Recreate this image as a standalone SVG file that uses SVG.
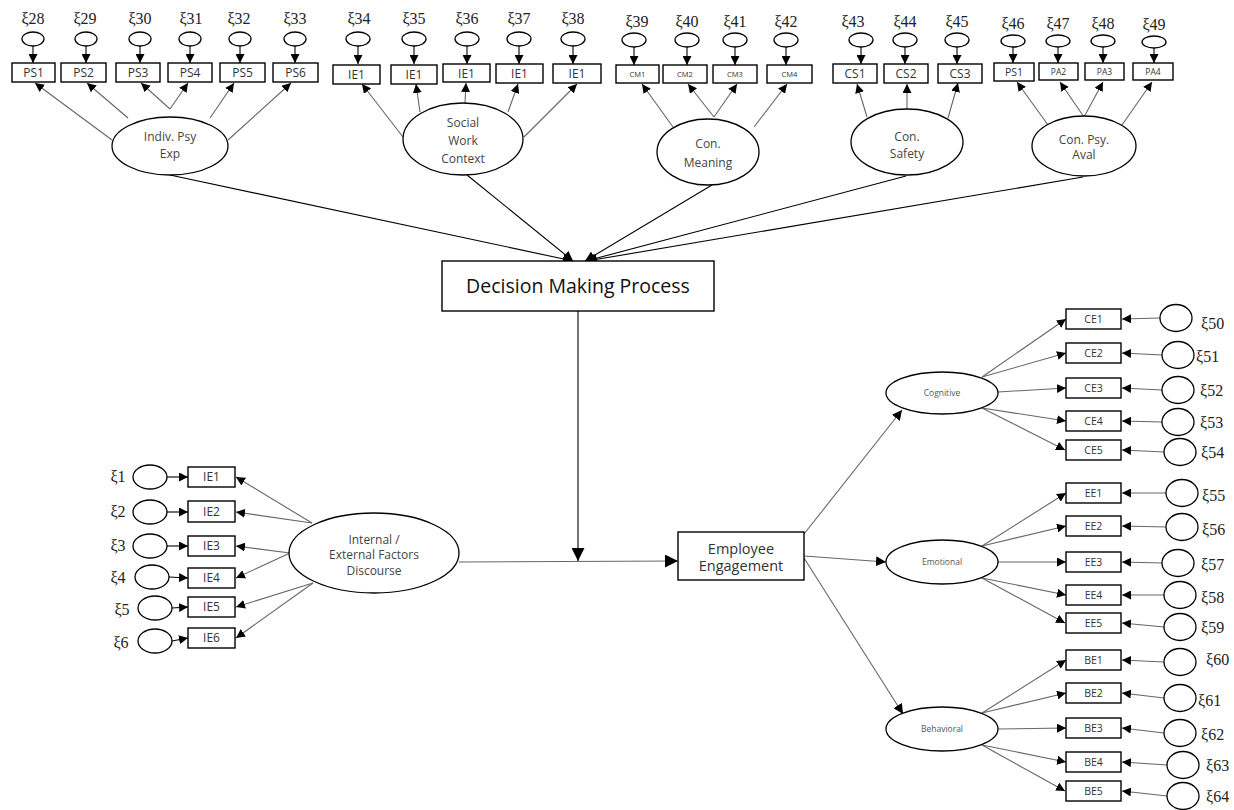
<svg xmlns="http://www.w3.org/2000/svg" width="1234" height="810" viewBox="0 0 1234 810">
<defs>
<style>
.bg{fill:#fff}
.box{fill:#fff;stroke:#000;stroke-width:1.4}
.el{fill:#fff;stroke:#000;stroke-width:1.3}
.c{fill:none;stroke:#666;stroke-width:1.1}
.k{fill:none;stroke:#000;stroke-width:1.1}
.xi{font-family:"Liberation Serif",serif;font-size:16px;fill:#222}
.t{font-family:"Open Sans","Liberation Sans",sans-serif;fill:#333;text-anchor:middle}
.s12{font-size:12px}
.s9{font-size:8.5px}
.s10{font-size:10.5px}
.s8{font-size:7.5px}
.dim{font-size:8.5px;fill:#555}
.lat{font-size:12px;fill:#444}
.big{font-size:19.5px;fill:#111}
.mid{font-size:14.5px;fill:#333}
</style>
<marker id="ah" viewBox="0 0 10 10" refX="10" refY="5" markerWidth="10" markerHeight="10" markerUnits="userSpaceOnUse" orient="auto"><path d="M0,0 L10,5 L0,10 z" fill="#000"/></marker>
<marker id="as" viewBox="0 0 10 10" refX="10" refY="5" markerWidth="9" markerHeight="9" markerUnits="userSpaceOnUse" orient="auto"><path d="M0,0 L10,5 L0,10 z" fill="#000"/></marker>
<marker id="al" viewBox="0 0 10 10" refX="10" refY="5" markerWidth="13" markerHeight="13" markerUnits="userSpaceOnUse" orient="auto"><path d="M0,0 L10,5 L0,10 z" fill="#000"/></marker>
</defs>
<rect class="bg" x="0" y="0" width="1234" height="810"/>

<g id="connectors">
<g class="k" marker-end="url(#as)">
<path d="M33,46 V63"/><path d="M86,46 V63"/><path d="M140,46 V63"/><path d="M190,46 V63"/><path d="M240,46 V63"/><path d="M295,46 V63"/>
<path d="M358,46 V64"/><path d="M414,46 V64"/><path d="M467,46 V64"/><path d="M519,46 V64"/><path d="M573,46 V64"/>
<path d="M634,47 V65"/><path d="M687,47 V65"/><path d="M735,47 V65"/><path d="M786,47 V65"/>
<path d="M861,47 V64"/><path d="M905,47 V64"/><path d="M957,47 V64"/>
<path d="M1013,47 V63"/><path d="M1058,47 V63"/><path d="M1103,47 V63"/><path d="M1154,48 V63"/>
</g>
<g class="c" marker-end="url(#as)">
<path d="M112,140 L35,83"/><path d="M128,118 L87,83"/><path d="M170,109 L141,83"/><path d="M170,109 L188,83"/><path d="M210,118 L234,83"/><path d="M228,140 L291,83"/>
<path d="M403,137 L362,84"/><path d="M420,112 L416,84"/><path d="M465,103 L466,83"/><path d="M508,112 L518,84"/><path d="M524,137 L577,84"/>
<path d="M673,127 L642,84"/><path d="M714,117 L688,84"/><path d="M714,117 L737,84"/><path d="M754,127 L787,84"/>
<path d="M867,117 L857,84"/><path d="M907,110 L907,84"/><path d="M948,118 L958,83"/>
<path d="M1048,125 L1017,82"/><path d="M1084,117 L1060,82"/><path d="M1084,117 L1103,82"/><path d="M1122,125 L1152,82"/>
</g>
<g class="k" marker-end="url(#ah)">
<path d="M170,175 L573,261"/>
<path d="M467,175 L573,261"/>
<path d="M712,185 L585,261"/>
<path d="M906,176 L586,261"/>
<path d="M1083,177 L587,261"/>
</g>
<path class="k" d="M578,311 V561" marker-end="url(#al)"/>
<path class="c" d="M459,562 L678,561" stroke="#555" marker-end="url(#al)"/>
<g class="k" marker-end="url(#as)">
<path d="M167,477 L188,477"/><path d="M167,512 L188,512"/><path d="M167,546 L188,546"/><path d="M169,577 L188,578"/><path d="M172,608 L188,607"/><path d="M172,641 L188,638"/>
</g>
<g class="c" marker-end="url(#as)">
<path d="M312,523 L236,477"/><path d="M312,523 L236,512"/><path d="M290,553 L236,546"/><path d="M290,553 L236,578"/><path d="M313,583 L236,607"/><path d="M313,583 L236,638"/>
</g>
<g class="c" marker-end="url(#ah)">
<path d="M804,534 L902,410"/><path d="M804,556 L886,562"/><path d="M804,558 L903,714"/>
</g>
<g class="c" marker-end="url(#as)">
<path d="M982,377 L1066,319"/><path d="M982,377 L1066,353"/><path d="M998,392 L1066,388"/><path d="M982,408 L1066,421"/><path d="M982,408 L1065,450"/>
<path d="M982,546 L1066,493"/><path d="M982,546 L1066,526"/><path d="M998,562 L1066,562"/><path d="M982,578 L1066,595"/><path d="M982,578 L1065,623"/>
<path d="M982,713 L1066,660"/><path d="M982,713 L1066,693"/><path d="M998,729 L1066,728"/><path d="M982,745 L1066,762"/><path d="M982,745 L1065,791"/>
</g>
<g class="c" marker-end="url(#as)">
<path d="M1160,318 L1122,319"/><path d="M1162,355 L1122,353"/><path d="M1162,390 L1122,388"/><path d="M1162,422 L1122,421"/><path d="M1164,452 L1122,450"/>
<path d="M1166,493 L1122,493"/><path d="M1166,527 L1122,526"/><path d="M1162,563 L1122,562"/><path d="M1164,595 L1122,595"/><path d="M1164,627 L1122,623"/>
<path d="M1164,662 L1122,660"/><path d="M1164,698 L1122,693"/><path d="M1164,733 L1122,728"/><path d="M1167,765 L1122,762"/><path d="M1167,796 L1122,791"/>
</g>
</g>

<g id="e28"><text class="xi" x="33" y="24" text-anchor="middle">ξ28</text><ellipse class="el" cx="33" cy="39" rx="11" ry="7"/></g>
<g id="e29"><text class="xi" x="85" y="24" text-anchor="middle">ξ29</text><ellipse class="el" cx="86" cy="39" rx="11" ry="7"/></g>
<g id="e30"><text class="xi" x="140" y="24" text-anchor="middle">ξ30</text><ellipse class="el" cx="140" cy="39" rx="11" ry="7"/></g>
<g id="e31"><text class="xi" x="191" y="24" text-anchor="middle">ξ31</text><ellipse class="el" cx="190" cy="39" rx="11" ry="7"/></g>
<g id="e32"><text class="xi" x="239" y="24" text-anchor="middle">ξ32</text><ellipse class="el" cx="240" cy="39" rx="11" ry="7"/></g>
<g id="e33"><text class="xi" x="295" y="24" text-anchor="middle">ξ33</text><ellipse class="el" cx="295" cy="39" rx="11" ry="7"/></g>
<g id="ps1"><rect class="box" x="12" y="63" width="43" height="19"/><text class="t s12" x="33.5" y="77">PS1</text></g>
<g id="ps2"><rect class="box" x="61" y="63" width="45" height="19"/><text class="t s12" x="83.5" y="77">PS2</text></g>
<g id="ps3"><rect class="box" x="116" y="63" width="44" height="19"/><text class="t s12" x="138" y="77">PS3</text></g>
<g id="ps4"><rect class="box" x="168" y="63" width="44" height="19"/><text class="t s12" x="190" y="77">PS4</text></g>
<g id="ps5"><rect class="box" x="220" y="63" width="45" height="19"/><text class="t s12" x="242.5" y="77">PS5</text></g>
<g id="ps6"><rect class="box" x="273" y="63" width="45" height="19"/><text class="t s12" x="295.5" y="77">PS6</text></g>
<g id="indiv"><ellipse class="el" cx="170" cy="146" rx="58" ry="29"/><text class="t lat" x="170" y="141">Indiv. Psy</text><text class="t lat" x="170" y="158">Exp</text></g>

<g id="e34"><text class="xi" x="359" y="24" text-anchor="middle">ξ34</text><ellipse class="el" cx="358" cy="39" rx="12" ry="7"/></g>
<g id="e35"><text class="xi" x="414" y="24" text-anchor="middle">ξ35</text><ellipse class="el" cx="414" cy="39" rx="12" ry="7"/></g>
<g id="e36"><text class="xi" x="467" y="24" text-anchor="middle">ξ36</text><ellipse class="el" cx="467" cy="39" rx="12" ry="7"/></g>
<g id="e37"><text class="xi" x="519" y="24" text-anchor="middle">ξ37</text><ellipse class="el" cx="519" cy="39" rx="12" ry="7"/></g>
<g id="e38"><text class="xi" x="573" y="24" text-anchor="middle">ξ38</text><ellipse class="el" cx="573" cy="39" rx="12" ry="7"/></g>
<g id="sw1"><rect class="box" x="333" y="65" width="47" height="19"/><text class="t s12" x="356.5" y="79">IE1</text></g>
<g id="sw2"><rect class="box" x="391" y="65" width="46" height="19"/><text class="t s12" x="414" y="79">IE1</text></g>
<g id="sw3"><rect class="box" x="443" y="64" width="47" height="18"/><text class="t s12" x="466.5" y="78">IE1</text></g>
<g id="sw4"><rect class="box" x="496" y="64" width="47" height="19"/><text class="t s12" x="519.5" y="78">IE1</text></g>
<g id="sw5"><rect class="box" x="553" y="64" width="48" height="19"/><text class="t s12" x="577" y="78">IE1</text></g>
<g id="social"><ellipse class="el" cx="463" cy="139" rx="60" ry="36"/><text class="t lat" x="463" y="127">Social</text><text class="t lat" x="463" y="145">Work</text><text class="t lat" x="463" y="163">Context</text></g>

<g id="e39"><text class="xi" x="637" y="27" text-anchor="middle">ξ39</text><ellipse class="el" cx="634" cy="40" rx="12" ry="7"/></g>
<g id="e40"><text class="xi" x="687" y="27" text-anchor="middle">ξ40</text><ellipse class="el" cx="687" cy="40" rx="12" ry="7"/></g>
<g id="e41"><text class="xi" x="735" y="27" text-anchor="middle">ξ41</text><ellipse class="el" cx="735" cy="40" rx="12" ry="7"/></g>
<g id="e42"><text class="xi" x="786" y="27" text-anchor="middle">ξ42</text><ellipse class="el" cx="786" cy="40" rx="12" ry="7"/></g>
<g id="cm1"><rect class="box" x="616" y="65" width="43" height="18"/><text class="t s8" x="637.5" y="77">CM1</text></g>
<g id="cm2"><rect class="box" x="663" y="65" width="44" height="18"/><text class="t s8" x="685" y="77">CM2</text></g>
<g id="cm3"><rect class="box" x="713" y="65" width="44" height="18"/><text class="t s8" x="735" y="77">CM3</text></g>
<g id="cm4"><rect class="box" x="767" y="65" width="45" height="18"/><text class="t s8" x="789.5" y="77">CM4</text></g>
<g id="meaning"><ellipse class="el" cx="708" cy="152" rx="51" ry="33"/><text class="t lat" x="708" y="148">Con.</text><text class="t lat" x="708" y="167">Meaning</text></g>

<g id="e43"><text class="xi" x="853" y="27" text-anchor="middle">ξ43</text><ellipse class="el" cx="861" cy="40" rx="12" ry="7"/></g>
<g id="e44"><text class="xi" x="905" y="27" text-anchor="middle">ξ44</text><ellipse class="el" cx="905" cy="40" rx="12" ry="7"/></g>
<g id="e45"><text class="xi" x="957" y="27" text-anchor="middle">ξ45</text><ellipse class="el" cx="957" cy="40" rx="12" ry="7"/></g>
<g id="cs1"><rect class="box" x="833" y="64" width="44" height="19"/><text class="t s12" x="855" y="78">CS1</text></g>
<g id="cs2"><rect class="box" x="884" y="64" width="44" height="19"/><text class="t s12" x="906" y="78">CS2</text></g>
<g id="cs3"><rect class="box" x="938" y="64" width="44" height="19"/><text class="t s12" x="960" y="78">CS3</text></g>
<g id="safety"><ellipse class="el" cx="907" cy="142" rx="56" ry="33"/><text class="t lat" x="907" y="141">Con.</text><text class="t lat" x="907" y="158">Safety</text></g>

<g id="e46"><text class="xi" x="1013" y="29" text-anchor="middle">ξ46</text><ellipse class="el" cx="1013" cy="41" rx="12" ry="6"/></g>
<g id="e47"><text class="xi" x="1058" y="29" text-anchor="middle">ξ47</text><ellipse class="el" cx="1058" cy="41" rx="12" ry="6"/></g>
<g id="e48"><text class="xi" x="1103" y="29" text-anchor="middle">ξ48</text><ellipse class="el" cx="1103" cy="41" rx="12" ry="6"/></g>
<g id="e49"><text class="xi" x="1154" y="30" text-anchor="middle">ξ49</text><ellipse class="el" cx="1154" cy="42" rx="12" ry="6"/></g>
<g id="pa1"><rect class="box" x="994" y="63" width="40" height="18"/><text class="t s10" x="1014" y="76">PS1</text></g>
<g id="pa2"><rect class="box" x="1039" y="63" width="39" height="17"/><text class="t s9" x="1058.5" y="75">PA2</text></g>
<g id="pa3"><rect class="box" x="1085" y="63" width="39" height="17"/><text class="t s9" x="1104.5" y="75">PA3</text></g>
<g id="pa4"><rect class="box" x="1133" y="63" width="40" height="17"/><text class="t s9" x="1153" y="75">PA4</text></g>
<g id="psyaval"><ellipse class="el" cx="1084" cy="146" rx="52" ry="30"/><text class="t lat" x="1084" y="144">Con. Psy.</text><text class="t lat" x="1084" y="159">Aval</text></g>

<g id="decision"><rect class="box" x="442" y="261" width="272" height="50"/><text class="t big" x="578" y="293">Decision Making Process</text></g>

<g id="ie1"><text class="xi" x="118" y="482" text-anchor="middle">ξ1</text><ellipse class="el" cx="150" cy="477" rx="17" ry="12"/><rect class="box" x="188" y="467" width="47" height="20"/><text class="t s12" x="211.5" y="481">IE1</text></g>
<g id="ie2"><text class="xi" x="118" y="517" text-anchor="middle">ξ2</text><ellipse class="el" cx="150" cy="512" rx="17" ry="12"/><rect class="box" x="188" y="501" width="47" height="21"/><text class="t s12" x="211.5" y="516">IE2</text></g>
<g id="ie3"><text class="xi" x="118" y="551" text-anchor="middle">ξ3</text><ellipse class="el" cx="150" cy="546" rx="17" ry="12"/><rect class="box" x="188" y="536" width="47" height="20"/><text class="t s12" x="211.5" y="550">IE3</text></g>
<g id="ie4"><text class="xi" x="118" y="583" text-anchor="middle">ξ4</text><ellipse class="el" cx="152" cy="577" rx="17" ry="12"/><rect class="box" x="188" y="568" width="47" height="20"/><text class="t s12" x="211.5" y="582">IE4</text></g>
<g id="ie5"><text class="xi" x="122" y="615" text-anchor="middle">ξ5</text><ellipse class="el" cx="155" cy="608" rx="17" ry="12"/><rect class="box" x="188" y="597" width="47" height="20"/><text class="t s12" x="211.5" y="611">IE5</text></g>
<g id="ie6"><text class="xi" x="121" y="648" text-anchor="middle">ξ6</text><ellipse class="el" cx="155" cy="641" rx="17" ry="12"/><rect class="box" x="188" y="628" width="47" height="20"/><text class="t s12" x="211.5" y="642">IE6</text></g>
<g id="internal"><ellipse class="el" cx="374" cy="553" rx="85" ry="40"/><text class="t lat" x="374" y="544">Internal /</text><text class="t lat" x="374" y="559">External Factors</text><text class="t lat" x="374" y="575">Discourse</text></g>

<g id="engagement"><rect class="box" x="678" y="532" width="126" height="48"/><text class="t mid" x="741" y="554">Employee</text><text class="t mid" x="741" y="571">Engagement</text></g>
<g id="cognitive"><ellipse class="el" cx="942" cy="393" rx="56" ry="21"/><text class="t dim" x="942" y="396">Cognitive</text></g>
<g id="emotional"><ellipse class="el" cx="942" cy="562" rx="56" ry="22"/><text class="t dim" x="942" y="565">Emotional</text></g>
<g id="behavioral"><ellipse class="el" cx="942" cy="729" rx="56" ry="22"/><text class="t dim" x="942" y="732">Behavioral</text></g>

<g id="ce1"><rect class="box" x="1066" y="309" width="55" height="20"/><text class="t s10" x="1093.5" y="323">CE1</text><ellipse class="el" cx="1176" cy="318" rx="16" ry="13.5"/><text class="xi" x="1201" y="329">ξ50</text></g>
<g id="ce2"><rect class="box" x="1066" y="343" width="55" height="20"/><text class="t s10" x="1093.5" y="357">CE2</text><ellipse class="el" cx="1178" cy="355" rx="16" ry="13.5"/><text class="xi" x="1196" y="362">ξ51</text></g>
<g id="ce3"><rect class="box" x="1066" y="378" width="55" height="20"/><text class="t s10" x="1093.5" y="392">CE3</text><ellipse class="el" cx="1178" cy="390" rx="16" ry="13.5"/><text class="xi" x="1200" y="396">ξ52</text></g>
<g id="ce4"><rect class="box" x="1066" y="411" width="55" height="20"/><text class="t s10" x="1093.5" y="425">CE4</text><ellipse class="el" cx="1178" cy="422" rx="16" ry="13.5"/><text class="xi" x="1200" y="428">ξ53</text></g>
<g id="ce5"><rect class="box" x="1066" y="440" width="55" height="20"/><text class="t s10" x="1093.5" y="454">CE5</text><ellipse class="el" cx="1180" cy="452" rx="16" ry="13.5"/><text class="xi" x="1201" y="458">ξ54</text></g>
<g id="ee1"><rect class="box" x="1066" y="483" width="55" height="20"/><text class="t s10" x="1093.5" y="497">EE1</text><ellipse class="el" cx="1182" cy="493" rx="16" ry="13.5"/><text class="xi" x="1202" y="501">ξ55</text></g>
<g id="ee2"><rect class="box" x="1066" y="516" width="55" height="20"/><text class="t s10" x="1093.5" y="530">EE2</text><ellipse class="el" cx="1182" cy="527" rx="16" ry="13.5"/><text class="xi" x="1202" y="535">ξ56</text></g>
<g id="ee3"><rect class="box" x="1066" y="552" width="55" height="20"/><text class="t s10" x="1093.5" y="566">EE3</text><ellipse class="el" cx="1178" cy="563" rx="16" ry="13.5"/><text class="xi" x="1201" y="570">ξ57</text></g>
<g id="ee4"><rect class="box" x="1066" y="585" width="55" height="20"/><text class="t s10" x="1093.5" y="599">EE4</text><ellipse class="el" cx="1180" cy="595" rx="16" ry="13.5"/><text class="xi" x="1201" y="603">ξ58</text></g>
<g id="ee5"><rect class="box" x="1066" y="613" width="55" height="20"/><text class="t s10" x="1093.5" y="627">EE5</text><ellipse class="el" cx="1180" cy="627" rx="16" ry="13.5"/><text class="xi" x="1201" y="633">ξ59</text></g>
<g id="be1"><rect class="box" x="1066" y="650" width="55" height="20"/><text class="t s10" x="1093.5" y="664">BE1</text><ellipse class="el" cx="1180" cy="662" rx="16" ry="13.5"/><text class="xi" x="1206" y="665">ξ60</text></g>
<g id="be2"><rect class="box" x="1066" y="683" width="55" height="20"/><text class="t s10" x="1093.5" y="697">BE2</text><ellipse class="el" cx="1180" cy="698" rx="16" ry="13.5"/><text class="xi" x="1198" y="706">ξ61</text></g>
<g id="be3"><rect class="box" x="1066" y="718" width="55" height="20"/><text class="t s10" x="1093.5" y="732">BE3</text><ellipse class="el" cx="1180" cy="733" rx="16" ry="13.5"/><text class="xi" x="1201" y="740">ξ62</text></g>
<g id="be4"><rect class="box" x="1066" y="752" width="55" height="20"/><text class="t s10" x="1093.5" y="766">BE4</text><ellipse class="el" cx="1183" cy="765" rx="16" ry="13.5"/><text class="xi" x="1206" y="771">ξ63</text></g>
<g id="be5"><rect class="box" x="1066" y="781" width="55" height="20"/><text class="t s10" x="1093.5" y="795">BE5</text><ellipse class="el" cx="1183" cy="796" rx="16" ry="13.5"/><text class="xi" x="1206" y="802">ξ64</text></g>
</svg>
